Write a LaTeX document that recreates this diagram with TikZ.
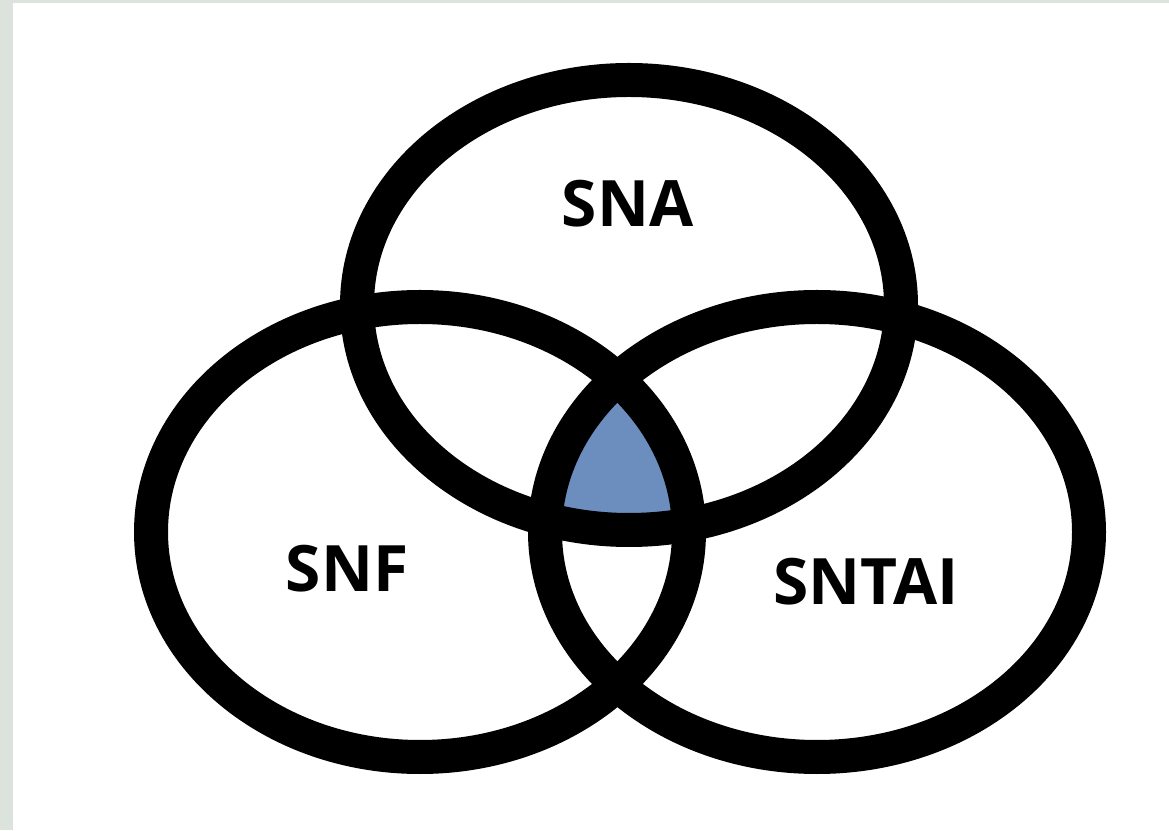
\documentclass[tikz,border=0pt]{standalone}
\usepackage{fontspec}
\setsansfont{Open Sans}
\definecolor{bggrey}{RGB}{220,226,220}
\definecolor{coreblue}{RGB}{108,142,191}
\tikzset{ring/.style={draw=black, line width=34pt},
  setlabel/.style={font=\sffamily\bfseries\fontsize{64}{64}\selectfont, anchor=base}}

\begin{document}
\begin{tikzpicture}[x=1pt,y=1pt]
\fill[bggrey] (0,0) rectangle (1169,830);
\fill[white] (13,0) rectangle (1169,827);
\useasboundingbox (0,0) rectangle (1169,830);
% Centre
\begin{scope}
\clip (629,525) ellipse [x radius=272pt, y radius=225pt];
\clip (420,298) ellipse [x radius=269pt, y radius=225pt];
\fill[coreblue] (817,298) ellipse [x radius=272pt, y radius=225pt];
\end{scope}
% Top
\draw[ring] (629,525) ellipse [x radius=272pt, y radius=225pt];
% Left
\draw[ring] (420,298) ellipse [x radius=269pt, y radius=225pt];
% Right
\draw[ring] (817,298) ellipse [x radius=272pt, y radius=225pt];
\node[setlabel] (sna) at (627.5,603) {SNA}; % top label
\node[setlabel] (snf) at (347,238) {SNF}; % left label
\node[setlabel] (sntai) at (866,225) {SNTAI}; % right label
\end{tikzpicture}
\end{document}
